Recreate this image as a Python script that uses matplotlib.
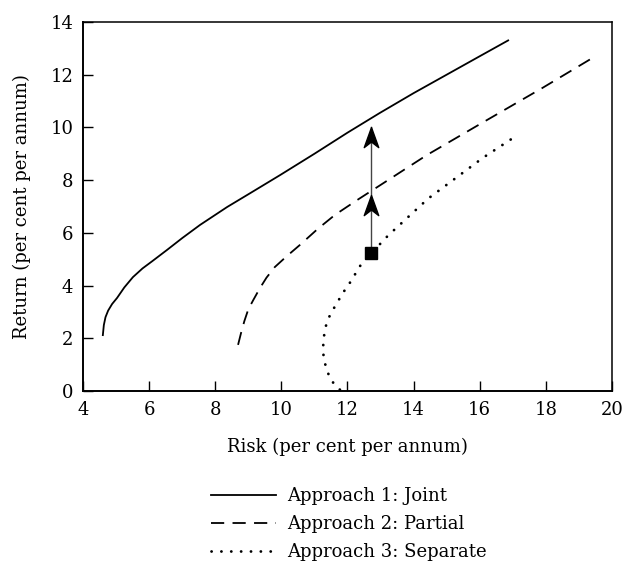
import numpy as np
import matplotlib
matplotlib.use("Agg")
import matplotlib.pyplot as plt
from matplotlib.path import Path

# Data (risk, return in per cent per annum)
joint_risk = [4.6, 4.63, 4.68, 4.76, 4.88, 5.03, 5.25, 5.51, 5.8, 6.1, 6.54, 7.0,
              7.54, 8.36, 9.05, 9.96, 11.0, 12.0, 12.98, 14.0, 15.0, 16.0, 16.86]
joint_ret = [2.12, 2.5, 2.8, 3.05, 3.3, 3.53, 3.93, 4.32, 4.65, 4.93, 5.35, 5.8,
             6.3, 6.98, 7.5, 8.19, 9.0, 9.8, 10.55, 11.3, 12.0, 12.7, 13.3]

partial_risk = [8.69, 8.78, 8.88, 9.0, 9.15, 9.35, 9.55, 9.8, 10.15, 10.56, 11.1,
                11.62, 12.3, 12.98, 14.4, 16.0, 17.9, 19.43]
partial_ret = [1.75, 2.2, 2.65, 3.1, 3.45, 3.9, 4.3, 4.7, 5.1, 5.54, 6.15,
               6.68, 7.25, 7.8, 8.95, 10.12, 11.5, 12.65]

separate_risk = [11.77, 11.6, 11.45, 11.35, 11.28, 11.26, 11.28, 11.33, 11.42, 11.57,
                 11.86, 12.05, 12.4, 12.7, 13.23, 14.44, 15.19, 16.1, 17.07]
separate_ret = [0.05, 0.25, 0.55, 0.9, 1.25, 1.6, 2.0, 2.4, 2.75, 3.1,
                3.72, 4.06, 4.78, 5.2, 5.9, 7.3, 8.0, 8.85, 9.65]

labels = ["Approach 1: Joint", "Approach 2: Partial", "Approach 3: Separate"]

# starting portfolio and the two improvements
start_point = (12.7, 5.23)
arrow_tips = [7.44, 10.0]

x_ticks = [4, 6, 8, 10, 12, 14, 16, 18, 20]
y_ticks = [0, 2, 4, 6, 8, 10, 12, 14]

plt.rcParams['font.family'] = ['DejaVu Serif']
plt.rcParams['font.size'] = 13
plt.rcParams['lines.scale_dashes'] = False

fig = plt.figure(figsize=(6.26, 5.66), dpi=100)
ax = fig.add_axes([0.1326, 0.3092, 0.845, 0.652])

ax.plot(joint_risk, joint_ret, color='black', lw=1.3, label=labels[0])
ax.plot(partial_risk, partial_ret, color='black', lw=1.3,
        linestyle=(0, (9.5, 6)), label=labels[1])
ax.plot(separate_risk, separate_ret, color='black', lw=2.0,
        linestyle=(0, (0.1, 7)), dash_capstyle='round', label=labels[2])

# vertical move with two arrowheads
ax.plot([start_point[0], start_point[0]], [start_point[1], arrow_tips[-1]],
        color='#444444', lw=1.0, zorder=3)
head = Path([(0, 0), (-0.36, -1), (0, -0.72), (0.36, -1), (0, 0)],
            [Path.MOVETO, Path.LINETO, Path.LINETO, Path.LINETO, Path.CLOSEPOLY])
ax.plot([start_point[0]] * len(arrow_tips), arrow_tips, linestyle='none',
        marker=head, markersize=29, color='black', zorder=4)
ax.plot([start_point[0]], [start_point[1]], linestyle='none', marker='s',
        markersize=9, color='black', zorder=5)

ax.set_xlim(4, 20)
ax.set_ylim(0, 14)
ax.set_xticks(x_ticks)
ax.set_yticks(y_ticks)
ax.tick_params(direction='in', length=7, width=1, pad=7, top=False, right=False)
for side in ['left', 'bottom']:
    ax.spines[side].set_linewidth(1.4)
for side in ['top', 'right']:
    ax.spines[side].set_linewidth(1.1)

ax.set_xlabel("Risk (per cent per annum)", labelpad=14)
ax.set_ylabel("Return (per cent per annum)", labelpad=14)

fig.legend(loc='upper left', bbox_to_anchor=(0.322, 0.155), frameon=False,
           borderpad=0, handlelength=3.6, handletextpad=0.66, labelspacing=0.55)

fig.savefig("out.png", dpi=100)
